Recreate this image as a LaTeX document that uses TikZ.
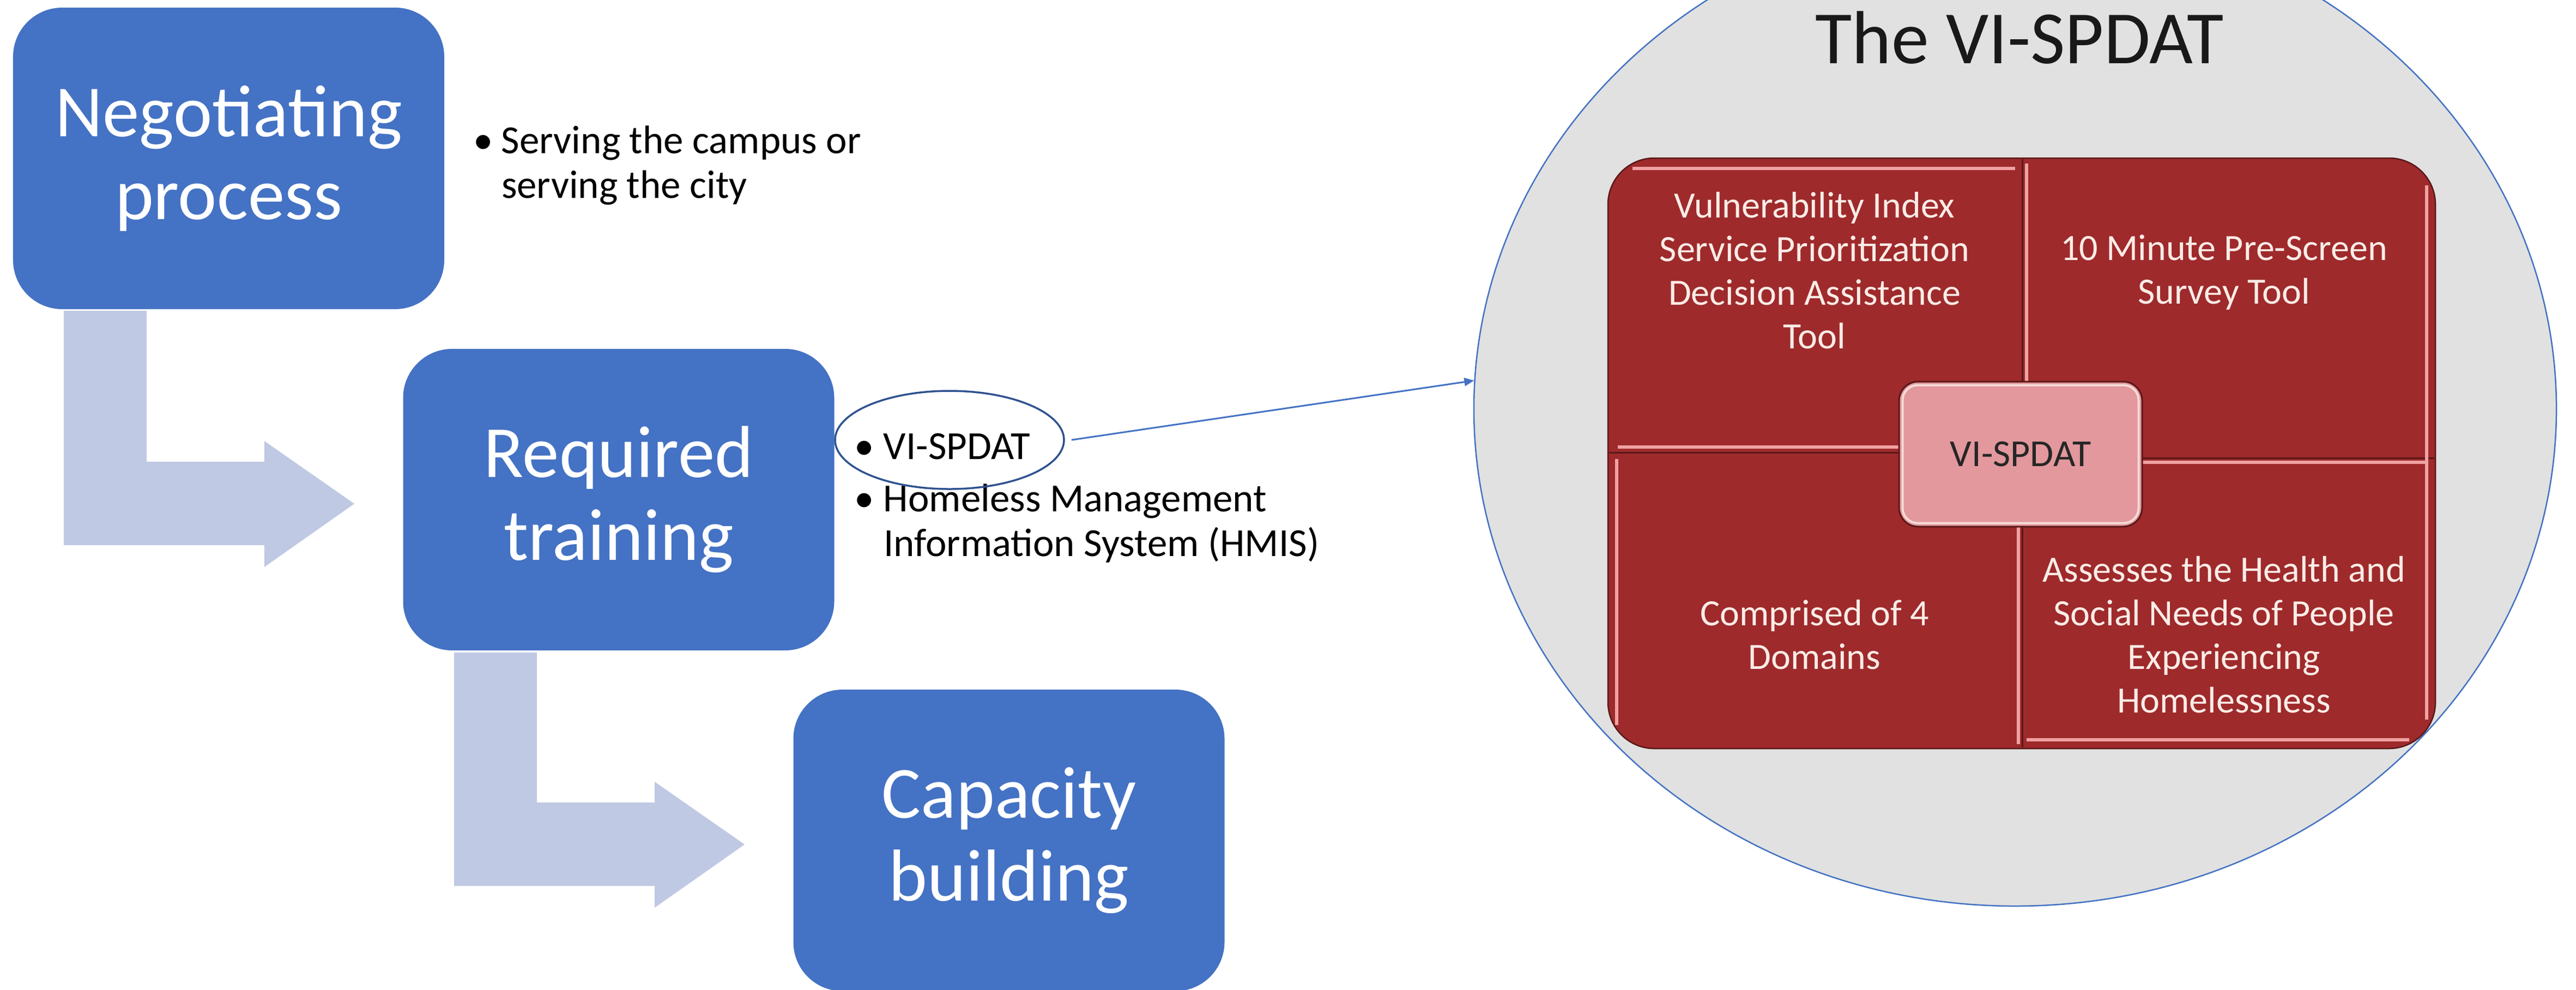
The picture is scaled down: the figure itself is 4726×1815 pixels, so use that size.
\documentclass[tikz,border=0pt]{standalone}
\usepackage{fontspec}
\setmainfont{Carlito}
\usetikzlibrary{shapes.geometric,arrows.meta}
\definecolor{boxblue}{RGB}{68,114,196}
\definecolor{arrowblue}{RGB}{191,201,227}
\definecolor{ellblue}{RGB}{47,82,143}
\definecolor{picgray}{RGB}{224,225,224}
\definecolor{quadred}{RGB}{158,42,44}
\definecolor{quadpink}{RGB}{240,162,162}
\definecolor{quadtext}{RGB}{250,236,230}
\definecolor{centerpink}{RGB}{226,152,156}
\definecolor{darkline}{RGB}{90,24,24}
\begin{document}
\begin{tikzpicture}[x=0.2pt,y=-0.2pt,
  bluebox/.style={fill=boxblue, draw=none, rounded corners=18pt, minimum width=158.2pt, minimum height=110.6pt, text=white, font=\fontsize{27}{30.4}\selectfont, align=center, inner sep=0pt},
  bentarrow/.style={fill=arrowblue, draw=none},
  bullettext/.style={font=\fontsize{14.6}{16.4}\selectfont, align=left, inner sep=0pt, anchor=base west},
  quadtxt/.style={font=\fontsize{13.6}{16}\selectfont, text=quadtext, align=center, inner sep=0pt},
  pinkline/.style={draw=quadpink, line width=1.1pt},
  darkdiv/.style={draw=darkline, line width=0.6pt},
]
\useasboundingbox (0,0) rectangle (4726,1815);
\clip (0,0) rectangle (4726,1815);

% bent arrows
\fill[bentarrow] (117,570) -- (269,570) -- (269,847) -- (485,847) -- (485,809) -- (650,924) -- (485,1040) -- (485,1000) -- (117,1000) -- cycle;
\fill[bentarrow] (833,1197) -- (985,1197) -- (985,1472) -- (1201,1472) -- (1201,1434) -- (1366,1549) -- (1201,1665) -- (1201,1625) -- (833,1625) -- cycle;

% process boxes
\node[bluebox] (b1) at (419.5,290.5) {Negotiating\\process};
\node[bluebox] (b2) at (1135,916.5) {Required\\training};
\node[bluebox] (b3) at (1851,1541.5) {Capacity\\building};

% bullets (anchored at the baseline of the last line)
\node[bullettext] (s1) at (867,363) {\makebox[10.4pt][l]{•}Serving the campus or\\\hspace*{10.4pt}serving the city};
\node[bullettext] (v1) at (1566,842) {\makebox[10.8pt][l]{•}VI-SPDAT};
\node[bullettext] (h1) at (1566,1020) {\makebox[10.8pt][l]{•}Homeless Management\\\hspace*{10.8pt}Information System (HMIS)};

\node[ellipse, draw=ellblue, line width=0.7pt, minimum width=84pt, minimum height=36pt, inner sep=0pt] (ell) at (1742,807) {};

% picture circle
\node[ellipse, draw=boxblue, line width=0.5pt, fill=picgray, minimum width=397.2pt, minimum height=364.8pt, inner sep=0pt] (pic) at (3697,750) {};

\draw[boxblue, line width=0.6pt, -{Triangle[length=3.6pt,width=3pt]}] ([xshift=2.4pt]ell.east) -- (pic.177);

\node[font=\fontsize{27.6}{30}\selectfont, text=black!90, anchor=base] (title) at (3705,116) {The VI-SPDAT};

\node[fill=quadred, draw=darkline, line width=0.5pt, rounded corners=17pt, minimum width=303.6pt, minimum height=216.6pt, inner sep=0pt] (mat) at (3709,831.5) {};
\draw[darkdiv] (3710,292) -- (3710,1371);
\draw[darkdiv] (2952,830) -- (3709,830);
\draw[darkdiv] (3709,840) -- (4466,840);
% pink highlight lines
\draw[pinkline] (2995,309) -- (3697,309);
\draw[pinkline] (3718,300) -- (3718,700);
\draw[pinkline] (2968,820) -- (3484,820);
\draw[pinkline] (3930,848) -- (4452,848);
\draw[pinkline] (3703,966) -- (3703,1365);
\draw[pinkline] (3718,1357) -- (4420,1357);
\draw[pinkline] (2966,842) -- (2966,1330);
\draw[pinkline] (4452,340) -- (4452,1320);

\node[fill=centerpink, draw=darkline, line width=0.6pt, rounded corners=7pt, minimum width=89.2pt, minimum height=53.2pt, inner sep=0pt, font=\fontsize{14}{16}\selectfont, text=black!85] (ctr) at (3707,833) {VI-SPDAT};
\draw[draw=quadtext!80!centerpink, line width=0.8pt, rounded corners=5.5pt] ([shift={(1.6pt,-1.6pt)}]ctr.north west) rectangle ([shift={(-1.6pt,1.6pt)}]ctr.south east);

\node[quadtxt] (q1) at (3329,496) {Vulnerability Index\\Service Prioritization\\Decision Assistance\\Tool};
\node[quadtxt] (q2) at (4080,500) {10 Minute Pre-Screen\\Survey Tool};
\node[quadtxt] (q3) at (3329,1164) {Comprised of 4\\Domains};
\node[quadtxt] (q4) at (4080,1164) {Assesses the Health and\\Social Needs of People\\Experiencing\\Homelessness};
\end{tikzpicture}
\end{document}
